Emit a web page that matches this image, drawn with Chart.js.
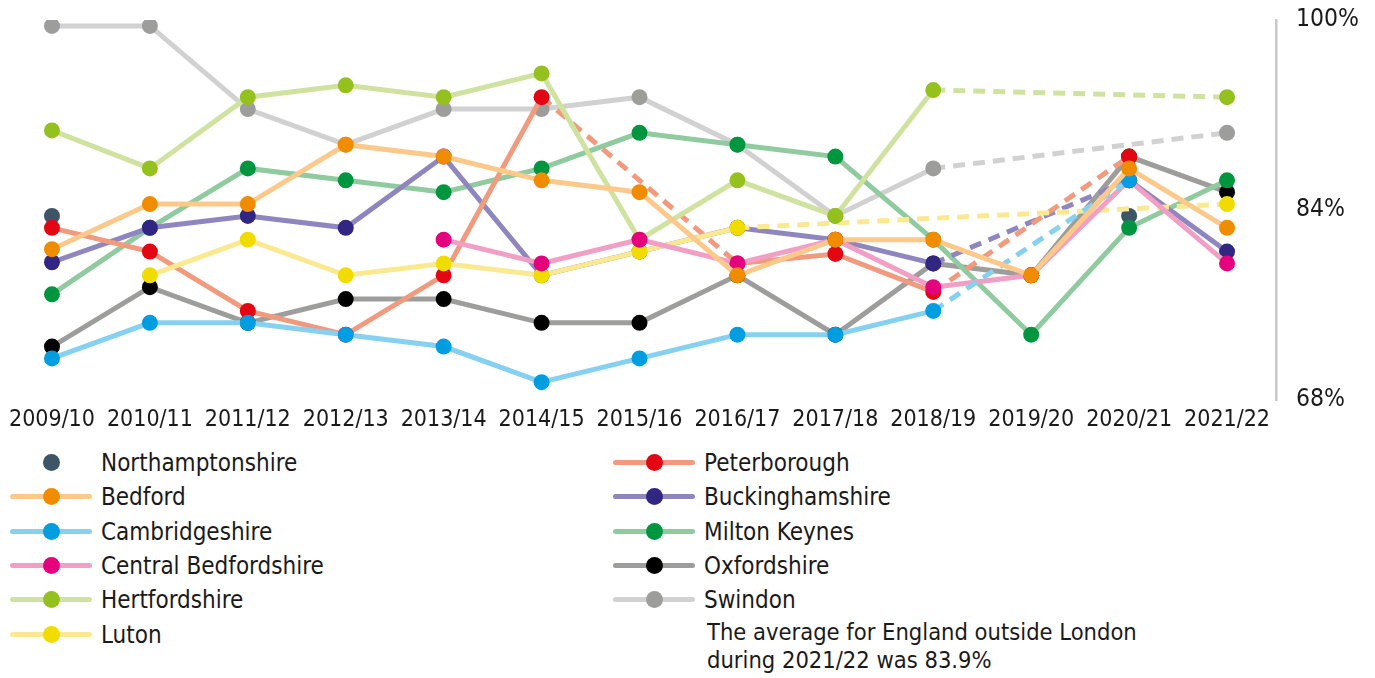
<!DOCTYPE html>
<html>
<head>
<meta charset="utf-8">
<script src="https://cdn.jsdelivr.net/npm/chart.js@4.4.1/dist/chart.umd.min.js"></script>
<style>
    body { margin: 0; background: #fff; }
    #wrap { position: relative; width: 1375px; height: 678px; font-family: 'DejaVu Sans Condensed', 'Liberation Sans', sans-serif; color: #1a1a1a; }
    #chart { position: absolute; left: 0; top: 0; }
    .row { position: absolute; height: 34px; font-size: 24px; line-height: 34px; white-space: nowrap; }
    .ln { position: absolute; top: 14px; width: 82px; height: 5px; border-radius: 3px; }
    .dt { position: absolute; top: 8px; width: 17px; height: 17px; border-radius: 50%; }
    .tx { position: absolute; left: 91px; top: 0; }
    .note { position: absolute; left: 707px; top: 618px; font-size: 23.5px; line-height: 28px; }
</style>
</head>
<body>
<div id="wrap">
    <canvas id="chart" width="1375" height="440"></canvas>
    <div class="note">The average for England outside London<br>during 2021/22 was 83.9%</div>
</div>
<script>
const years = ['2009/10', '2010/11', '2011/12', '2012/13', '2013/14', '2014/15', '2015/16',
    '2016/17', '2017/18', '2018/19', '2019/20', '2020/21', '2021/22'];
const yTicks = [68, 84, 100];

const northamptonshire = [83.5, null, null, null, null, null, null, null, null, null, null, 83.5, null];
const bedford = [80.7, 84.5, 84.5, 89.5, 88.5, 86.5, 85.5, 78.5, 81.5, 81.5, 78.5, 87.5, 82.5];
const cambridgeshire = [71.5, 74.5, 74.5, 73.5, 72.5, 69.5, 71.5, 73.5, 73.5, 75.5, null, 86.5, null];
const centralBedfordshire = [null, null, null, null, 81.5, 79.5, 81.5, 79.5, 81.5, 77.5, 78.5, 86.5, 79.5];
const hertfordshire = [90.7, 87.5, 93.5, 94.5, 93.5, 95.5, 81.5, 86.5, 83.5, 94.1, null, null, 93.5];
const luton = [null, 78.5, 81.5, 78.5, 79.5, 78.5, 80.5, 82.5, null, null, null, null, 84.5];
const peterborough = [82.5, 80.5, 75.5, 73.5, 78.5, 93.5, null, 79.5, 80.3, 77.1, null, 88.5, null];
const buckinghamshire = [79.6, 82.5, 83.5, 82.5, 88.5, 78.5, 80.5, 82.5, 81.5, 79.5, null, 86.5, 80.5];
const miltonKeynes = [76.9, 82.5, 87.5, 86.5, 85.5, 87.5, 90.5, 89.5, 88.5, 81.5, 73.5, 82.5, 86.5];
const oxfordshire = [72.5, 77.5, 74.5, 76.5, 76.5, 74.5, 74.5, 78.5, 73.5, 79.5, 78.5, 88.5, 85.5];
const swindon = [99.5, 99.5, 92.5, 89.5, 92.5, 92.5, 93.5, 89.5, 83.5, 87.5, null, null, 90.5];

// name, values, line colour, dot colour
const series = [
    ['Northamptonshire', northamptonshire, null, '#3d5566'],
    ['Bedford', bedford, '#fdc98b', '#f08c00'],
    ['Cambridgeshire', cambridgeshire, '#86d0f2', '#009ee0'],
    ['Central Bedfordshire', centralBedfordshire, '#f29fc5', '#e5007e'],
    ['Hertfordshire', hertfordshire, '#d0e2a0', '#95c11f'],
    ['Luton', luton, '#fae990', '#f0dc00'],
    ['Peterborough', peterborough, '#f29a7e', '#e30613'],
    ['Buckinghamshire', buckinghamshire, '#8f86c0', '#312783'],
    ['Milton Keynes', miltonKeynes, '#8fcb9f', '#009640'],
    ['Oxfordshire', oxfordshire, '#9d9d9c', '#000000'],
    ['Swindon', swindon, '#d1d1d1', '#9d9d9c']
];

// dashed where the line jumps over missing years
const gap = (ctx) => (ctx.p0.skip || ctx.p1.skip ? [12, 8] : undefined);

const datasets = series.map(function (s, i) {
    return {
        label: s[0],
        data: s[1],
        borderColor: s[2] || s[3],
        backgroundColor: s[3],
        pointBackgroundColor: s[3],
        pointBorderWidth: 0,
        pointRadius: 8,
        borderWidth: 5,
        showLine: s[2] !== null,
        spanGaps: true,
        order: i == 0 ? 1 : 0,
        segment: { borderDash: gap }
    };
});

// legend, two columns
const wrap = document.getElementById('wrap');
series.forEach(function (s, i) {
    const col = i < 6 ? 0 : 1;
    const r = col == 0 ? i : i - 6;
    const row = document.createElement('div');
    row.className = 'row';
    row.style.left = (col == 0 ? 10 : 613) + 'px';
    row.style.top = (446 + r * 34.3) + 'px';
    let html = '';
    if (s[2]) html += '<div class="ln" style="left:0;background:' + s[2] + '"></div>';
    html += '<div class="dt" style="left:33px;background:' + s[3] + '"></div>';
    html += '<div class="tx">' + s[0] + '</div>';
    row.innerHTML = html;
    wrap.appendChild(row);
});

const font = "'DejaVu Sans Condensed', 'Liberation Sans', sans-serif";

new Chart(document.getElementById('chart'), {
    type: 'line',
    data: { labels: years, datasets: datasets },
    options: {
        responsive: false,
        animation: false,
        layout: { autoPadding: false, padding: { left: 3, top: 20, right: 0, bottom: 0 } },
        plugins: { legend: { display: false }, tooltip: { enabled: false } },
        scales: {
            x: {
                offset: true,
                grid: { display: false, drawTicks: false },
                border: { display: false },
                ticks: {
                    color: '#1a1a1a',
                    font: { family: font, size: 23 },
                    padding: 6,
                    maxRotation: 0,
                    autoSkip: false
                },
                afterFit: function (s) {
                    s.height = 40;
                    s.paddingLeft = 0;
                    s.paddingRight = 0;
                }
            },
            y: {
                position: 'right',
                min: 68,
                max: 100,
                grid: { display: false, drawTicks: false },
                border: { display: true, color: '#c8c8c8', width: 2.5 },
                afterBuildTicks: function (s) { s.ticks = yTicks.map(v => ({ value: v })); },
                ticks: {
                    color: '#1a1a1a',
                    padding: 20,
                    font: { family: font, size: 24.5 },
                    callback: v => v + '%'
                },
                afterFit: function (s) {
                    s.width = 99;
                    s.paddingTop = 0;
                    s.paddingBottom = 0;
                }
            }
        }
    }
});
</script>
</body>
</html>
